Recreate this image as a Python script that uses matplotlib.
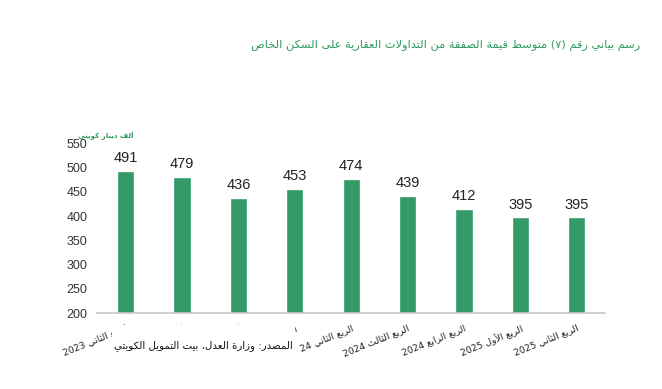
import re
import matplotlib
matplotlib.use("Agg")
import matplotlib.pyplot as plt
from matplotlib.patches import Rectangle

# ---------------- data ----------------
categories = ["الربع الثاني 2023", "الربع الثالث 2023", "الربع الرابع 2023",
              "الربع الأول 2024", "الربع الثاني 24", "الربع الثالث 2024",
              "الربع الرابع 2024", "الربع الأول 2025", "الربع الثاني 2025"]
values = [491, 479, 436, 453, 474, 439, 412, 395, 395]
yticks = [200, 250, 300, 350, 400, 450, 500, 550]
title = "رسم بياني رقم (٧) متوسط قيمة الصفقة من التداولات العقارية على السكن الخاص"
ylabel = "ألف دينار كويتي"
source = "المصدر: وزارة العدل، بيت التمويل الكويتي"

# ---------------- minimal Arabic shaping ----------------
_TABLE = [('\u0621', 0xFE80, 1), ('\u0622', 0xFE81, 2), ('\u0623', 0xFE83, 2),
          ('\u0624', 0xFE85, 2), ('\u0625', 0xFE87, 2), ('\u0626', 0xFE89, 4),
          ('\u0627', 0xFE8D, 2), ('\u0628', 0xFE8F, 4), ('\u0629', 0xFE93, 2),
          ('\u062A', 0xFE95, 4), ('\u062B', 0xFE99, 4), ('\u062C', 0xFE9D, 4),
          ('\u062D', 0xFEA1, 4), ('\u062E', 0xFEA5, 4), ('\u062F', 0xFEA9, 2),
          ('\u0630', 0xFEAB, 2), ('\u0631', 0xFEAD, 2), ('\u0632', 0xFEAF, 2),
          ('\u0633', 0xFEB1, 4), ('\u0634', 0xFEB5, 4), ('\u0635', 0xFEB9, 4),
          ('\u0636', 0xFEBD, 4), ('\u0637', 0xFEC1, 4), ('\u0638', 0xFEC5, 4),
          ('\u0639', 0xFEC9, 4), ('\u063A', 0xFECD, 4), ('\u0641', 0xFED1, 4),
          ('\u0642', 0xFED5, 4), ('\u0643', 0xFED9, 4), ('\u0644', 0xFEDD, 4),
          ('\u0645', 0xFEE1, 4), ('\u0646', 0xFEE5, 4), ('\u0647', 0xFEE9, 4),
          ('\u0648', 0xFEED, 2), ('\u0649', 0xFEEF, 2), ('\u064A', 0xFEF1, 4)]
FORMS = {c: (b, n) for c, b, n in _TABLE}
LAMALEF = {'\u0627': 0xFEFB, '\u0623': 0xFEF7, '\u0622': 0xFEF5, '\u0625': 0xFEF9}


def shape(s):
    chars = list(s)
    n = len(chars)
    out = []
    k = 0
    while k < n:
        c = chars[k]
        if c not in FORMS:
            out.append(c)
            k += 1
            continue
        prev_j = k > 0 and chars[k - 1] in FORMS and FORMS[chars[k - 1]][1] == 4
        if c == '\u0644' and k + 1 < n and chars[k + 1] in LAMALEF:
            base = LAMALEF[chars[k + 1]]
            out.append(chr(base + 1 if prev_j else base))
            k += 2
            continue
        base, nf = FORMS[c]
        next_j = nf == 4 and k + 1 < n and chars[k + 1] in FORMS
        if nf == 1:
            cp = base
        elif nf == 2:
            cp = base + 1 if prev_j else base
        else:
            if prev_j and next_j:
                cp = base + 3
            elif prev_j:
                cp = base + 1
            elif next_j:
                cp = base + 2
            else:
                cp = base
        out.append(chr(cp))
        k += 1
    return ''.join(out)


def vis(s):
    sh = shape(s)
    runs = re.findall(r'[A-Za-z0-9]+|[^A-Za-z0-9]+', sh)
    mirror = {'(': ')', ')': '('}
    res = []
    for r in reversed(runs):
        if re.match(r'[A-Za-z0-9]', r):
            res.append(r)
        else:
            res.append(''.join(mirror.get(c, c) for c in reversed(r)))
    return ''.join(res)


# ---------------- plot ----------------
GREEN = "#339966"
TITLE_GREEN = "#2f9a5f"
AR_FONT = ["DejaVu Sans"]
LAT_FONT = ["Liberation Sans", "DejaVu Sans"]

fig = plt.figure(figsize=(6.62, 3.89), dpi=100)
ax = fig.add_axes([0.147, 0.195, 0.767, 0.437])

x = list(range(len(values)))
ax.bar(x, values, width=0.27, color=GREEN, edgecolor="#4aa878",
       linewidth=0.6, zorder=2)
for xi, v in zip(x, values):
    ax.text(xi, v + 14, str(v), ha="center", va="bottom", fontsize=10.5,
            color="#222222", family=LAT_FONT)

ax.set_xlim(-0.5, len(values) - 0.5)
ax.set_ylim(200, 550)
ax.set_yticks(yticks)
ax.set_yticklabels([str(t) for t in yticks], fontsize=9, color="#333333",
                   family=LAT_FONT)
ax.set_xticks(x)
ax.set_xticklabels([vis(c) for c in categories], rotation=22, ha="right",
                   rotation_mode="anchor", fontsize=6.7, color="#222222",
                   family=AR_FONT)
ax.tick_params(axis="both", length=0)
ax.tick_params(axis="y", pad=7)
ax.tick_params(axis="x", pad=7)
for side in ("top", "right", "left"):
    ax.spines[side].set_visible(False)
ax.spines["bottom"].set_color("#c8c8c8")
ax.spines["bottom"].set_linewidth(1.2)

fig.text(0.967, 0.884, vis(title), ha="right", va="center", fontsize=8.2,
         color=TITLE_GREEN, family=AR_FONT)
fig.text(0.201, 0.650, vis(ylabel), ha="right", va="center", fontsize=5,
         color=TITLE_GREEN, fontweight="bold", family=AR_FONT)

# white source text box (covers part of the category labels, as in the original)
fig.patches.append(Rectangle((0.169, 0.055), 0.277, 0.110,
                             transform=fig.transFigure, facecolor="white",
                             edgecolor="none", zorder=1))
fig.text(0.307, 0.113, vis(source), ha="center", va="center", fontsize=7.4,
         color="#111111", family=AR_FONT, zorder=3)

fig.savefig("out.png", dpi=100)
